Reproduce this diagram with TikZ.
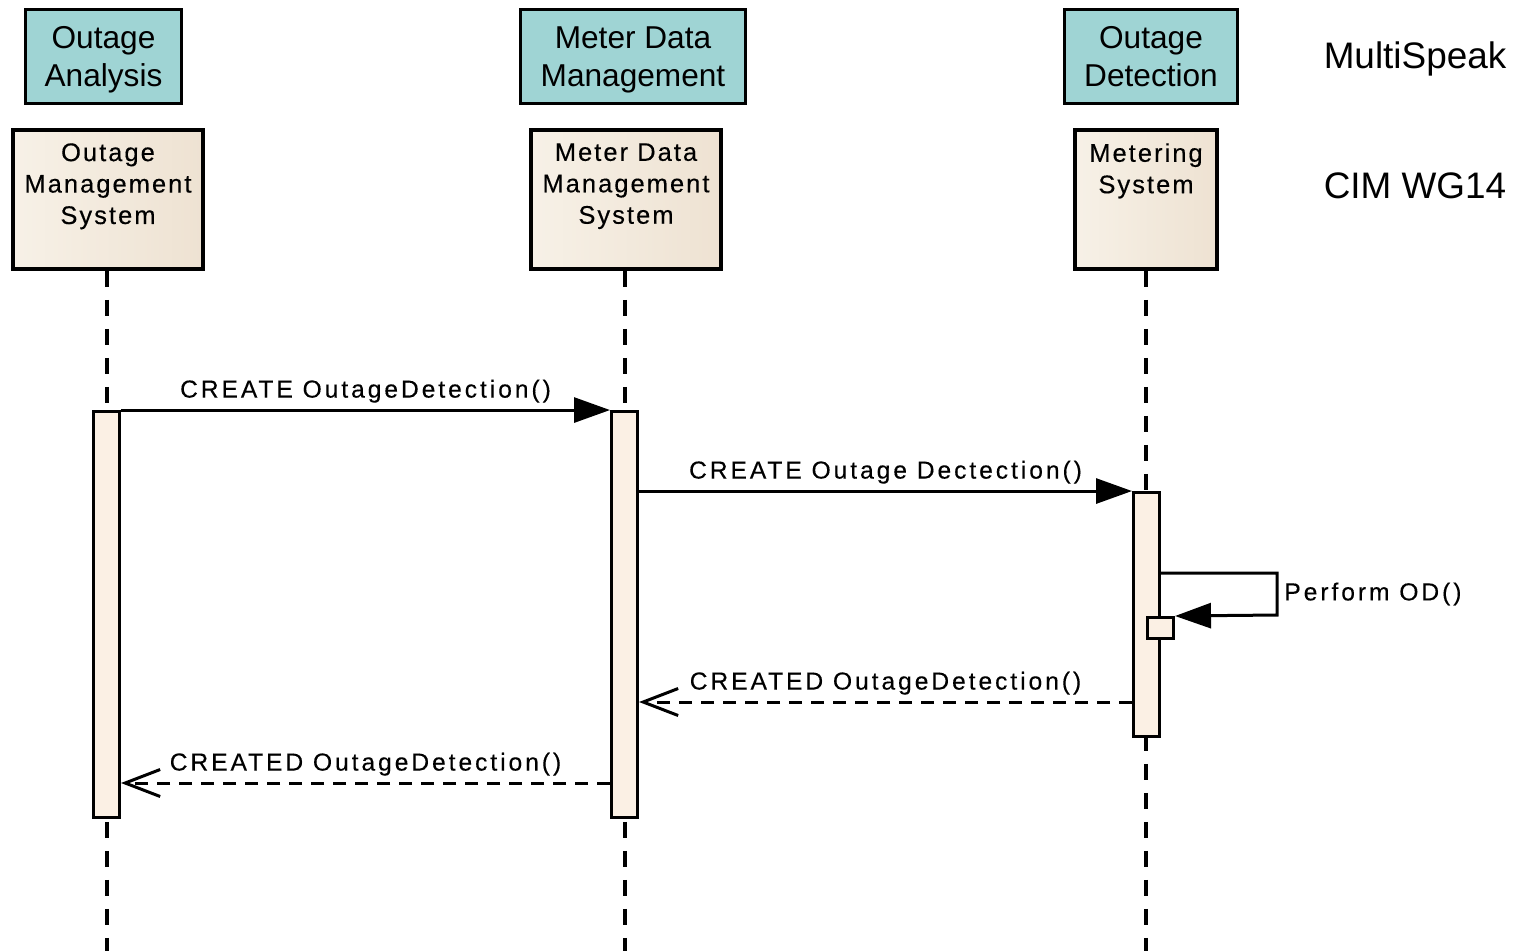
\documentclass[tikz,border=0pt]{standalone}
\usepackage{fontspec}
\setmainfont{Liberation Sans}
\newfontfamily\msgfont[LetterSpace=12,FakeBold=0.3]{Liberation Sans}
\newfontfamily\actorfont[LetterSpace=8,FakeBold=0.3]{Liberation Sans}
\usetikzlibrary{arrows.meta}

\definecolor{specfill}{RGB}{159,212,212}
\definecolor{actorleft}{RGB}{247,241,231}
\definecolor{actorright}{RGB}{238,226,210}
\definecolor{barfill}{RGB}{251,240,228}

\begin{document}
\begin{tikzpicture}[x=0.02cm,y=-0.02cm]
		\tikzstyle {spec box} = [draw, line width=0.06cm, fill=specfill, minimum height=1.88cm, align=center, text depth=0pt, font=\fontsize{18}{21.6}\selectfont]
		\tikzstyle {actor box} = [draw, line width=0.08cm, left color=actorleft, right color=actorright, minimum height=2.78cm]
		\tikzstyle {actor text} = [anchor=north, inner sep=8.5pt, align=center, font=\actorfont\fontsize{14.5}{17.9}\selectfont]
		\tikzstyle {act bar} = [draw, line width=0.06cm, fill=barfill, minimum width=0.52cm, inner sep=0pt]
		\tikzstyle {life line} = [line width=0.08cm, dash pattern=on 0.32cm off 0.26cm]
		\tikzstyle {call} = [line width=0.06cm, -{Triangle[length=0.72cm,width=0.5cm]}]
		\tikzstyle {reply} = [line width=0.06cm, dash pattern=on 0.26cm off 0.18cm, -{Straight Barb[length=0.7cm,width=0.54cm]}]
		\tikzstyle {msg} = [above, font=\msgfont\fontsize{14}{16}\selectfont]

		\useasboundingbox (0,0) rectangle (1518,951);

		% MultiSpeak names
		\node[spec box, minimum width=3.12cm] (oa) at (103.5,56.5) {Outage\\Analysis};
		\node[spec box, minimum width=4.5cm] (mdm) at (633,56.5) {Meter Data\\Management};
		\node[spec box, minimum width=3.46cm] (od) at (1151,56.5) {Outage\\Detection};

		% CIM lifelines
		\node[actor box, minimum width=3.8cm] (oms) at (108,199.5) {};
		\node[actor box, minimum width=3.8cm] (mdms) at (626,199.5) {};
		\node[actor box, minimum width=2.84cm] (ms) at (1146,199.5) {};
		\node[actor text] (omstext) at (oms.north) {Outage\\Management\\System};
		\node[actor text] (mdmstext) at (mdms.north) {Meter Data\\Management\\System};
		\node[actor text] (mstext) at (ms.north) {Metering\\System};

		\node[font=\fontsize{21}{25}\selectfont] (multispeak) at (1415,59) {MultiSpeak};
		\node[font=\fontsize{21}{25}\selectfont] (cimwg) at (1415,186) {CIM WG14};

		\coordinate (omsend) at (107,951);
		\coordinate (mdmsend) at (625,951);
		\coordinate (msend) at (1146,951);
		\draw[life line] (oms.south -| omsend) -- (omsend);
		\draw[life line] (mdms.south -| mdmsend) -- (mdmsend);
		\draw[life line] (ms.south -| msend) -- (msend);

		% activations
		\node[act bar, minimum height=8.12cm] (omsbar) at (106.5,614.5) {};
		\node[act bar, minimum height=8.12cm] (mdmsbar) at (624.5,614.5) {};
		\node[act bar, minimum height=4.88cm] (msbar) at (1146.5,614.5) {};
		\node[act bar, minimum height=0.42cm] (odbox) at (1160.5,628) {};

		% messages
		\draw[call] (omsbar.north east) -- node[msg] {CREATE OutageDetection()} (mdmsbar.north west);
		\draw[call] (mdmsbar.east |- msbar.north) -- node[msg] {CREATE Outage Dectection()} (msbar.north west);
		\draw[call] (msbar.east |- 0,573) -- (1277,573) -- node[right, font=\msgfont\fontsize{14}{16}\selectfont] {Perform OD()} (1277,615) -- (odbox.north east);
		\draw[reply] (msbar.west |- 0,702) -- node[msg] {CREATED OutageDetection()} (mdmsbar.east |- 0,702);
		\draw[reply] (mdmsbar.west |- 0,783) -- node[msg] {CREATED OutageDetection()} (omsbar.east |- 0,783);
	\end{tikzpicture}
\end{document}
